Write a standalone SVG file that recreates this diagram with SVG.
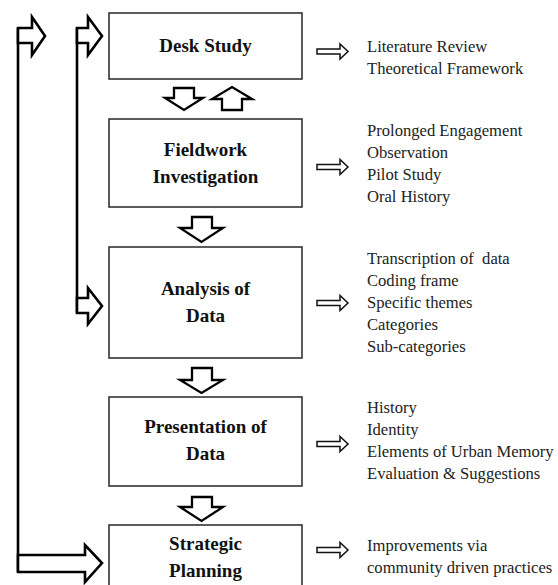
<svg xmlns="http://www.w3.org/2000/svg" width="558" height="585" viewBox="0 0 558 585">
<style>
.box{fill:#fff;stroke:#333;stroke-width:1.6}
.title{font-family:"Liberation Serif",serif;font-weight:bold;font-size:19px;fill:#111;text-anchor:middle}
.item{font-family:"Liberation Serif",serif;font-size:16.6px;fill:#222}
.blk{fill:#fff;stroke:#000;stroke-width:2.3;stroke-linejoin:miter}
.sm{fill:#fff;stroke:#111;stroke-width:1.5}
.ln{fill:none;stroke:#000;stroke-width:2.6}
.fb{fill:#fff;stroke:#000;stroke-width:2.6}
</style>
<rect width="558" height="585" fill="#fff"/>
<g id="connectors">
  <line class="ln" x1="18" y1="28" x2="18" y2="572"/>
  <polygon class="fb" points="18,28 32,28 32,17 45,36 32,55 32,43 18,43"/>
  <polygon class="fb" points="18,555 85,555 85,545 102,563 85,582 85,572 18,572"/>
  <line class="ln" x1="77" y1="28" x2="77" y2="313"/>
  <polygon class="fb" points="77,28 88,28 88,17 102,36 88,55 88,43 77,43"/>
  <polygon class="fb" points="77,298 88,298 88,288 102,306 88,324 88,313 77,313"/>
  <polygon class="blk" points="174,88 194,88 194,98 203,98 184,110 165,98 174,98"/>
  <polygon class="blk" points="222,110 242,110 242,99 252,99 232,87 212,99 222,99"/>
  <polygon class="blk" points="192,217 212,217 212,228 223,228 201.5,242 180,228 192,228"/>
  <polygon class="blk" points="192,368 212,368 212,380 223,380 201.5,393 180,380 192,380"/>
  <polygon class="blk" points="192,497 212,497 212,507 223,507 201.5,521 180,507 192,507"/>
  <polygon class="sm" points="317,49 340,49 340,44 348,51.5 340,59 340,54 317,54"/>
  <polygon class="sm" points="317,164.5 340,164.5 340,159.5 348,167 340,174.5 340,169.5 317,169.5"/>
  <polygon class="sm" points="317,300.5 340,300.5 340,295.5 348,303 340,310.5 340,305.5 317,305.5"/>
  <polygon class="sm" points="317,441.5 340,441.5 340,436.5 348,444 340,451.5 340,446.5 317,446.5"/>
  <polygon class="sm" points="317,547.5 340,547.5 340,542.5 348,550 340,557.5 340,552.5 317,552.5"/>
</g>
<g id="desk-study">
  <rect class="box" x="109" y="13" width="193" height="66"/>
  <text class="title" x="205.5" y="52">Desk Study</text>
  <text class="item" x="367" y="52">Literature Review</text>
  <text class="item" x="367" y="74">Theoretical Framework</text>
</g>
<g id="fieldwork">
  <rect class="box" x="109" y="119" width="193" height="88"/>
  <text class="title" x="205.5" y="156">Fieldwork</text>
  <text class="title" x="205.5" y="183">Investigation</text>
  <text class="item" x="367" y="136">Prolonged Engagement</text>
  <text class="item" x="367" y="158">Observation</text>
  <text class="item" x="367" y="180">Pilot Study</text>
  <text class="item" x="367" y="202">Oral History</text>
</g>
<g id="analysis">
  <rect class="box" x="109" y="247" width="193" height="111"/>
  <text class="title" x="205.5" y="295">Analysis of</text>
  <text class="title" x="205.5" y="322">Data</text>
  <text class="item" x="367" y="264" xml:space="preserve">Transcription of  data</text>
  <text class="item" x="367" y="286">Coding frame</text>
  <text class="item" x="367" y="308">Specific themes</text>
  <text class="item" x="367" y="330">Categories</text>
  <text class="item" x="367" y="352">Sub-categories</text>
</g>
<g id="presentation">
  <rect class="box" x="109" y="397" width="193" height="89"/>
  <text class="title" x="205.5" y="433">Presentation of</text>
  <text class="title" x="205.5" y="460">Data</text>
  <text class="item" x="367" y="413">History</text>
  <text class="item" x="367" y="435">Identity</text>
  <text class="item" x="367" y="457">Elements of Urban Memory</text>
  <text class="item" x="367" y="479">Evaluation &amp; Suggestions</text>
</g>
<g id="strategic">
  <rect class="box" x="109" y="525" width="193" height="70"/>
  <text class="title" x="205.5" y="550">Strategic</text>
  <text class="title" x="205.5" y="577">Planning</text>
  <text class="item" x="367" y="551">Improvements via</text>
  <text class="item" x="367" y="573">community driven practices</text>
</g>
</svg>
